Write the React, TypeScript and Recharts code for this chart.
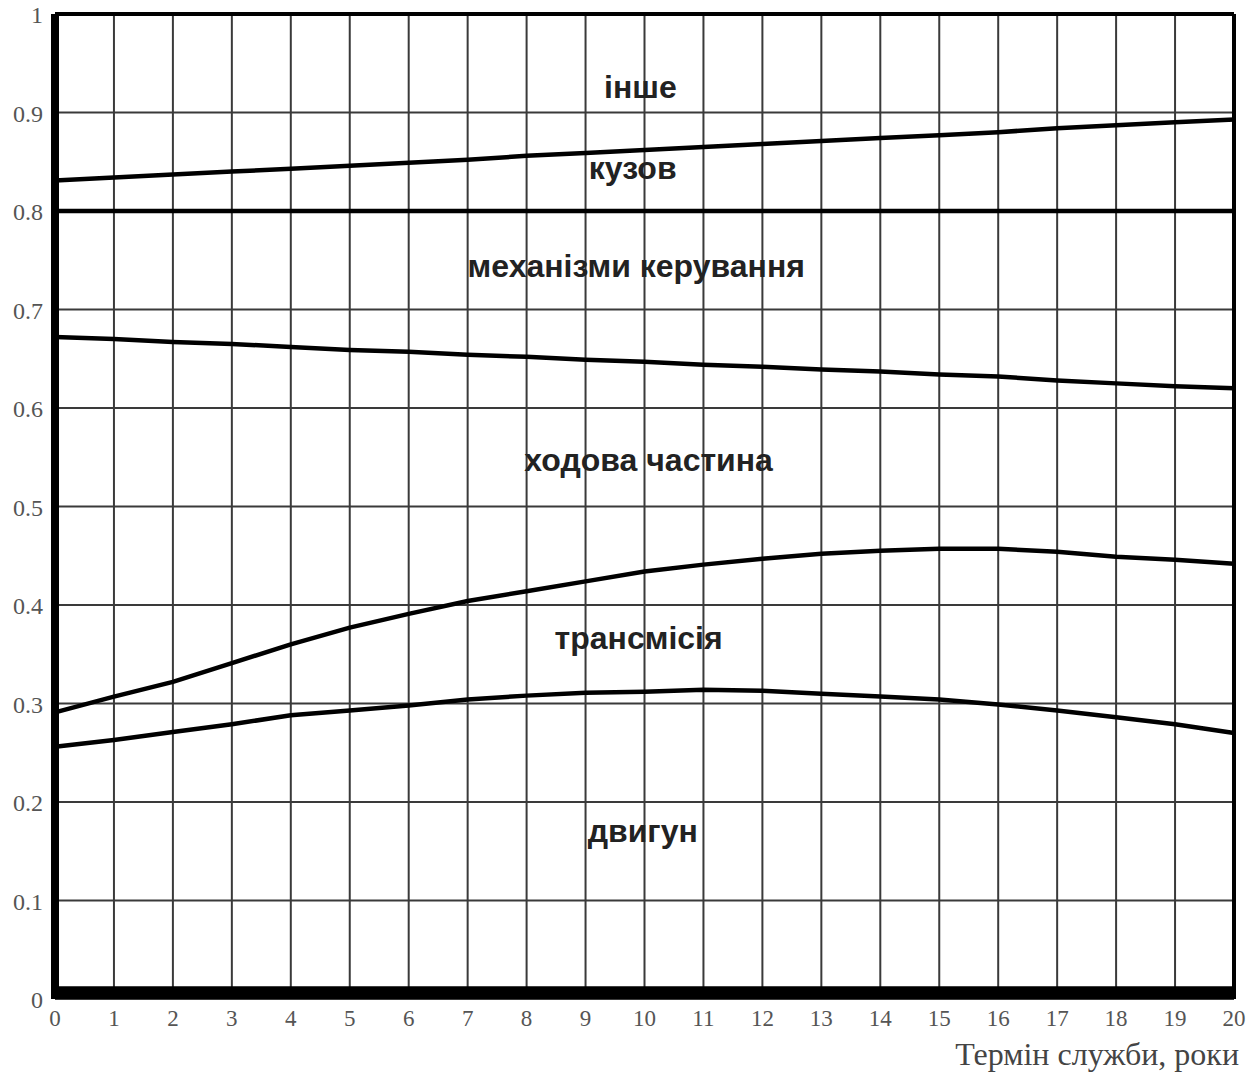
import { LineChart, Line, XAxis, YAxis, CartesianGrid, ReferenceLine, ReferenceArea, ReferenceDot, Label } from "recharts";

const years = [0, 1, 2, 3, 4, 5, 6, 7, 8, 9, 10, 11, 12, 13, 14, 15, 16, 17, 18, 19, 20];

// upper boundary of each share band (cumulative)
const engine = [0.256, 0.263, 0.271, 0.279, 0.288, 0.293, 0.298, 0.304, 0.308, 0.311, 0.312, 0.314, 0.313, 0.31, 0.307, 0.304, 0.299, 0.293, 0.286, 0.279, 0.27];
const transmission = [0.291, 0.307, 0.322, 0.341, 0.36, 0.377, 0.391, 0.404, 0.414, 0.424, 0.434, 0.441, 0.447, 0.452, 0.455, 0.457, 0.457, 0.454, 0.449, 0.446, 0.442];
const chassis = [0.672, 0.67, 0.667, 0.665, 0.662, 0.659, 0.657, 0.654, 0.652, 0.649, 0.647, 0.644, 0.642, 0.639, 0.637, 0.634, 0.632, 0.628, 0.625, 0.622, 0.62];
const controls = [0.8, 0.8, 0.8, 0.8, 0.8, 0.8, 0.8, 0.8, 0.8, 0.8, 0.8, 0.8, 0.8, 0.8, 0.8, 0.8, 0.8, 0.8, 0.8, 0.8, 0.8];
const body = [0.831, 0.834, 0.837, 0.84, 0.843, 0.846, 0.849, 0.852, 0.856, 0.859, 0.862, 0.865, 0.868, 0.871, 0.874, 0.877, 0.88, 0.884, 0.887, 0.89, 0.893];

const yTicks = [0, 0.1, 0.2, 0.3, 0.4, 0.5, 0.6, 0.7, 0.8, 0.9, 1];

const bandNames = ["інше", "кузов", "механізми керування", "ходова частина", "трансмісія", "двигун"];
const bandX = [9.93, 9.8, 9.86, 10.07, 9.9, 9.97];
const bandY = [0.926, 0.844, 0.745, 0.548, 0.367, 0.171];

const data = years.map((yr, i) => ({
  yr,
  engine: engine[i],
  transmission: transmission[i],
  chassis: chassis[i],
  controls: controls[i],
  body: body[i],
}));

const serif = "'Liberation Serif', 'DejaVu Serif', serif";
const sans = "'Liberation Sans', Arial, sans-serif";

const XTick = (props: any) => {
  const { x, y, payload } = props;
  return (
    <text x={x} y={y + 19} textAnchor="middle" fontFamily={serif} fontSize={23} fill="#555">
      {payload.value}
    </text>
  );
};

const YTick = (props: any) => {
  const { y, payload } = props;
  const v = payload.value;
  const s = v === 0 ? "0" : v === 1 ? "1" : v.toFixed(1);
  return (
    <text x={43} y={y + 9} textAnchor="end" fontFamily={serif} fontSize={24} fill="#555">
      {s}
    </text>
  );
};

export default function App() {
  return (
    <div style={{ position: "absolute", left: 0, top: 0, background: "#fff" }}>
      <LineChart width={1253} height={1072} data={data} margin={{ top: 14, right: 19, left: 0, bottom: 0 }}>
        <CartesianGrid stroke="#3a3a3a" strokeWidth={2} />
        <XAxis
          dataKey="yr"
          type="number"
          domain={[0, 20]}
          ticks={years}
          interval={0}
          height={73}
          tickLine={false}
          axisLine={false}
          tick={<XTick />}
        >
          <Label
            content={(p: any) => {
              const vb = p.viewBox;
              return (
                <text x={vb.x + vb.width + 5} y={vb.y + 66} textAnchor="end" fontFamily={serif} fontSize={32} fill="#444">
                  Термін служби, роки
                </text>
              );
            }}
          />
        </XAxis>
        <YAxis
          type="number"
          domain={[0, 1]}
          ticks={yTicks}
          interval={0}
          width={55}
          tickLine={false}
          axisLine={false}
          tick={<YTick />}
        />
        <Line dataKey="engine" stroke="#000" strokeWidth={4.5} dot={false} isAnimationActive={false} type="linear" />
        <Line dataKey="transmission" stroke="#000" strokeWidth={4.5} dot={false} isAnimationActive={false} type="linear" />
        <Line dataKey="chassis" stroke="#000" strokeWidth={4.5} dot={false} isAnimationActive={false} type="linear" />
        <Line dataKey="controls" stroke="#000" strokeWidth={4.5} dot={false} isAnimationActive={false} type="linear" />
        <Line dataKey="body" stroke="#000" strokeWidth={4.5} dot={false} isAnimationActive={false} type="linear" />
        <ReferenceLine x={0} stroke="#000" strokeWidth={8} />
        <ReferenceLine x={20} stroke="#000" strokeWidth={4} />
        <ReferenceLine y={1} stroke="#000" strokeWidth={4} />
        <ReferenceArea x1={0} x2={20} y1={0} y2={0.013} fill="#000" fillOpacity={1} stroke="none" />
        {bandNames.map((name, i) => (
          <ReferenceDot
            key={name}
            x={bandX[i]}
            y={bandY[i]}
            r={0}
            fill="none"
            stroke="none"
            label={{ value: name, position: "center", fill: "#222", fontSize: 32, fontWeight: 700, fontFamily: sans }}
          />
        ))}
      </LineChart>
    </div>
  );
}
